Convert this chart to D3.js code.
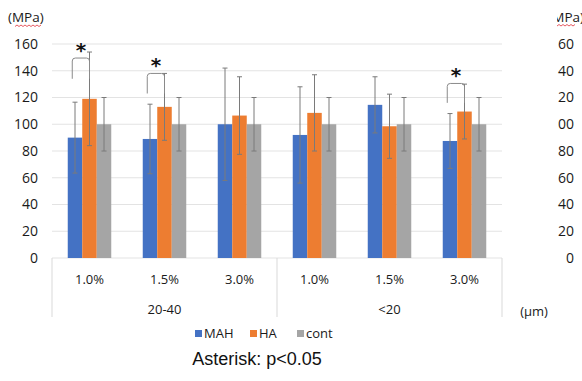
<!DOCTYPE html>
<html>
<head>
<meta charset="utf-8">
<script src="https://cdn.jsdelivr.net/npm/d3@7"></script>
<style>
  body { margin: 0; background: #fff; }
</style>
</head>
<body>
<script>
// chart values
var categories = ["1.0%", "1.5%", "3.0%", "1.0%", "1.5%", "3.0%"];
var groups = ["20-40", "<20"];
var series = ["MAH", "HA", "cont"];
var colors = ["#4472c4", "#ed7d31", "#a5a5a5"];

var mahMean = [90, 89, 100, 92, 114.5, 87.5];
var mahErr = [26.5, 26, 42, 36, 21, 20.5];
var haMean = [119, 113, 106.5, 108.5, 98.5, 109.5];
var haErr = [35, 25, 29, 28.5, 24, 20.5];
var contMean = [100, 100, 100, 100, 100, 100];
var contErr = [20, 20, 20, 20, 20, 20];

var yTicks = [0, 20, 40, 60, 80, 100, 120, 140, 160];

// significance brackets (category index, bracket top, leg bottom)
var sigIndex = [0, 1, 5];
var sigTop = [149.5, 138, 130.5];
var sigLeg = [134, 123, 116];

var means = [mahMean, haMean, contMean];
var errs = [mahErr, haErr, contErr];
var font = "Open Sans, sans-serif";

var svg = d3.select("body").append("svg")
  .attr("width", 582)
  .attr("height", 381)
  .style("font-family", font);

var x = d3.scaleBand()
  .domain(d3.range(categories.length))
  .range([52, 502])
  .paddingInner(0.42)
  .paddingOuter(0.21);

var xi = d3.scaleBand()
  .domain(series)
  .range([0, x.bandwidth()]);

var y = d3.scaleLinear()
  .domain([0, 160])
  .range([258, 44]);

// gridlines
svg.append("g").selectAll("line")
  .data(yTicks)
  .enter().append("line")
  .attr("x1", 52).attr("x2", 502)
  .attr("y1", function(d) { return y(d); })
  .attr("y2", function(d) { return y(d); })
  .attr("stroke", "#e3e3e3")
  .attr("stroke-width", 1);

// left axis labels
svg.append("g").selectAll("text")
  .data(yTicks)
  .enter().append("text")
  .attr("x", 38)
  .attr("y", function(d) { return y(d); })
  .attr("dy", "0.35em")
  .attr("text-anchor", "end")
  .attr("font-size", 14)
  .attr("fill", "#1a1a1a")
  .text(function(d) { return d; });

svg.append("text")
  .attr("x", 8).attr("y", 22)
  .attr("font-size", 13.5)
  .attr("fill", "#1a1a1a")
  .text("(MPa)");
svg.append("path")
  .attr("d", d3.range(15, 43, 2).map(function(v, i) { return (i ? "L" : "M") + v + "," + (i % 2 ? 25 : 26.5); }).join(""))
  .attr("fill", "none")
  .attr("stroke", "#e0303a")
  .attr("stroke-width", 0.8);

// right axis, cut off at the edge
svg.append("clipPath").attr("id", "rclip")
  .append("rect").attr("x", 557).attr("y", 0).attr("width", 30).attr("height", 300);
var right = svg.append("g").attr("clip-path", "url(#rclip)");
right.selectAll("text")
  .data(yTicks)
  .enter().append("text")
  .attr("x", 574)
  .attr("y", function(d) { return y(d); })
  .attr("dy", "0.35em")
  .attr("text-anchor", "end")
  .attr("font-size", 14)
  .attr("fill", "#1a1a1a")
  .text(function(d) { return d; });
right.append("text")
  .attr("x", 584).attr("y", 22)
  .attr("text-anchor", "end")
  .attr("font-size", 13.5)
  .attr("fill", "#1a1a1a")
  .text("(MPa)");
right.append("path")
  .attr("d", d3.range(557, 577, 2).map(function(v, i) { return (i ? "L" : "M") + v + "," + (i % 2 ? 24.5 : 26); }).join(""))
  .attr("fill", "none")
  .attr("stroke", "#e0303a")
  .attr("stroke-width", 0.8);

// bars
series.forEach(function(s, k) {
  svg.append("g").selectAll("rect")
    .data(means[k])
    .enter().append("rect")
    .attr("x", function(d, i) { return x(i) + xi(s); })
    .attr("y", function(d) { return y(d); })
    .attr("width", xi.bandwidth())
    .attr("height", function(d) { return y(0) - y(d); })
    .attr("fill", colors[k]);
});

// error bars
series.forEach(function(s, k) {
  var g = svg.append("g").attr("stroke", "#7a7a7a").attr("stroke-width", 1);
  means[k].forEach(function(m, i) {
    var cx = x(i) + xi(s) + xi.bandwidth() / 2;
    var e = errs[k][i];
    g.append("line").attr("x1", cx).attr("x2", cx).attr("y1", y(m - e)).attr("y2", y(m + e));
    g.append("line").attr("x1", cx - 2.5).attr("x2", cx + 2.5).attr("y1", y(m + e)).attr("y2", y(m + e));
    g.append("line").attr("x1", cx - 2.5).attr("x2", cx + 2.5).attr("y1", y(m - e)).attr("y2", y(m - e));
  });
});

// significance brackets
sigIndex.forEach(function(i, k) {
  var xl = x(i) + xi("MAH") + 4.5;
  var xr = x(i) + xi("HA") + xi.bandwidth() / 2;
  var yt = y(sigTop[k]), yb = y(sigLeg[k]);
  svg.append("path")
    .attr("d", "M" + xl + "," + yb + "L" + xl + "," + (yt + 3) + "Q" + xl + "," + yt + " " + (xl + 3) + "," + yt +
      "L" + (xr - 3) + "," + yt + "Q" + xr + "," + yt + " " + xr + "," + (yt + 3) + "L" + xr + "," + yb)
    .attr("fill", "none")
    .attr("stroke", "#8a8a8a")
    .attr("stroke-width", 1);
  svg.append("text")
    .attr("x", (xl + xr) / 2)
    .attr("y", yt - 1)
    .attr("text-anchor", "middle")
    .style("font-family", "DejaVu Sans")
    .attr("font-weight", "bold")
    .attr("font-size", 20)
    .attr("fill", "#111")
    .text("*");
});

// category axis box
svg.append("g").selectAll("line")
  .data([52, 277, 502])
  .enter().append("line")
  .attr("x1", function(d) { return d; }).attr("x2", function(d) { return d; })
  .attr("y1", 258).attr("y2", 317)
  .attr("stroke", "#d9d9d9");

svg.append("g").selectAll("text")
  .data(categories)
  .enter().append("text")
  .attr("x", function(d, i) { return x(i) + x.bandwidth() / 2; })
  .attr("y", 284)
  .attr("text-anchor", "middle")
  .attr("font-size", 13)
  .attr("fill", "#1a1a1a")
  .text(function(d) { return d; });

svg.append("g").selectAll("text")
  .data(groups)
  .enter().append("text")
  .attr("x", function(d, i) { return (x(i * 3) + x(i * 3 + 2) + x.bandwidth()) / 2; })
  .attr("y", 314)
  .attr("text-anchor", "middle")
  .attr("font-size", 13)
  .attr("fill", "#1a1a1a")
  .text(function(d) { return d; });

svg.append("text")
  .attr("x", 534).attr("y", 316)
  .attr("text-anchor", "middle")
  .attr("font-size", 13)
  .attr("fill", "#1a1a1a")
  .text("(\u00b5m)");

// legend
var legX = [195, 250, 297];
var legend = svg.append("g").selectAll("g")
  .data(series)
  .enter().append("g")
  .attr("transform", function(d, i) { return "translate(" + legX[i] + ",330)"; });
legend.append("rect")
  .attr("width", 7).attr("height", 7)
  .attr("fill", function(d, i) { return colors[i]; });
legend.append("text")
  .attr("x", 9).attr("y", 8)
  .attr("font-size", 13)
  .attr("fill", "#1a1a1a")
  .text(function(d) { return d; });

svg.append("text")
  .attr("x", 257).attr("y", 365)
  .attr("text-anchor", "middle")
  .style("font-family", "Liberation Sans, Arial, sans-serif")
  .attr("font-size", 18)
  .attr("fill", "#111")
  .text("Asterisk: p<0.05");
</script>
</body>
</html>
